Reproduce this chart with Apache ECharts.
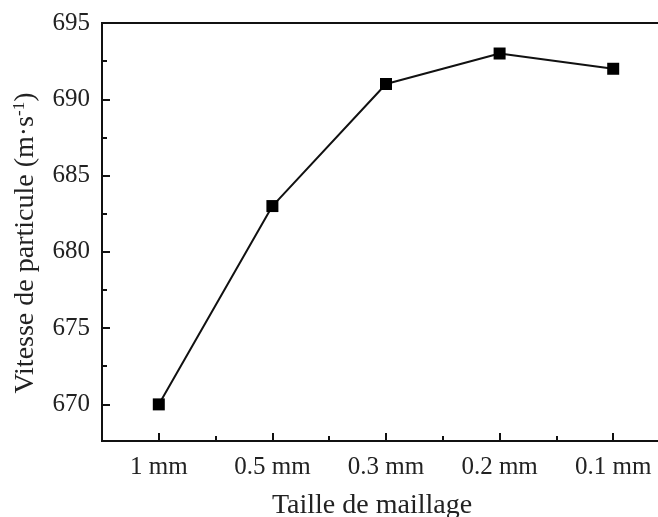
<!DOCTYPE html>
<html>
<head>
<meta charset="utf-8">
<script src="https://cdn.jsdelivr.net/npm/echarts@6/dist/echarts.min.js"></script>
<style>
  html, body { margin: 0; padding: 0; background: #fff; }
  #chart { width: 658px; height: 517px; }
</style>
</head>
<body>
<div id="chart"></div>
<script>
// Mesh sizes and the resulting particle velocity
const meshSizes = ['1 mm', '0.5 mm', '0.3 mm', '0.2 mm', '0.1 mm'];
const velocities = [670, 683, 691, 693, 692];
const majorTicks = [670, 675, 680, 685, 690, 695];
const minorTicks = [672.5, 677.5, 682.5, 687.5, 692.5];

const FONT = '"Liberation Serif", "Times New Roman", serif';
const yMin = 667.6, yMax = 695;

const chart = echarts.init(document.getElementById('chart'), null, { renderer: 'canvas' });

chart.setOption({
  animation: false,
  backgroundColor: '#fff',
  grid: {
    left: 102, top: 23, width: 568, height: 418,
    outerBoundsMode: 'none',
    containLabel: false,
    show: true, borderColor: '#111', borderWidth: 2, backgroundColor: 'transparent'
  },
  xAxis: [
    {
      type: 'category',
      data: meshSizes,
      boundaryGap: true,
      axisLine: { show: true, lineStyle: { color: '#111', width: 2 } },
      axisTick: { show: true, inside: true, alignWithLabel: true, length: 8, lineStyle: { color: '#111', width: 2 } },
      axisLabel: { color: '#222', fontFamily: FONT, fontSize: 25, margin: 14 },
      name: 'Taille de maillage',
      nameLocation: 'middle',
      nameGap: 51,
      nameTextStyle: { color: '#222', fontFamily: FONT, fontSize: 28, padding: [0, 28, 0, 0] },
      splitLine: { show: false }
    },
    {
      type: 'category',
      data: meshSizes,
      position: 'bottom',
      boundaryGap: true,
      axisLine: { show: false },
      axisTick: { show: true, inside: true, length: 5, lineStyle: { color: '#111', width: 2 } },
      axisLabel: { show: false },
      splitLine: { show: false }
    }
  ],
  yAxis: [
    {
      type: 'value',
      min: yMin, max: yMax,
      axisLine: { show: true, lineStyle: { color: '#111', width: 2 } },
      axisTick: { show: true, inside: true, length: 8, customValues: majorTicks, lineStyle: { color: '#111', width: 2 } },
      axisLabel: { color: '#222', fontFamily: FONT, fontSize: 25, margin: 12, customValues: majorTicks },
      splitLine: { show: false },
      name: '{t|Vitesse de particule (m·s}{sup|-1}{t|)}',
      nameLocation: 'middle',
      nameGap: 62,
      nameTextStyle: {
        color: '#222', fontFamily: FONT, fontSize: 28,
        padding: [0, 22, 0, 0],
        rich: {
          t: { fontFamily: FONT, fontSize: 28, color: '#222' },
          sup: { fontFamily: FONT, fontSize: 17, color: '#222', verticalAlign: 'top', padding: [0, 0, 12, 0] }
        }
      }
    },
    {
      type: 'value',
      min: yMin, max: yMax,
      position: 'left',
      axisLine: { show: false },
      axisTick: { show: true, inside: true, length: 5, customValues: minorTicks, lineStyle: { color: '#111', width: 2 } },
      axisLabel: { show: false },
      splitLine: { show: false }
    }
  ],
  series: [
    {
      type: 'line',
      xAxisIndex: 0,
      yAxisIndex: 0,
      data: velocities,
      symbol: 'rect',
      symbolSize: 12,
      itemStyle: { color: '#000' },
      lineStyle: { color: '#111', width: 2 }
    }
  ]
});
</script>
</body>
</html>
